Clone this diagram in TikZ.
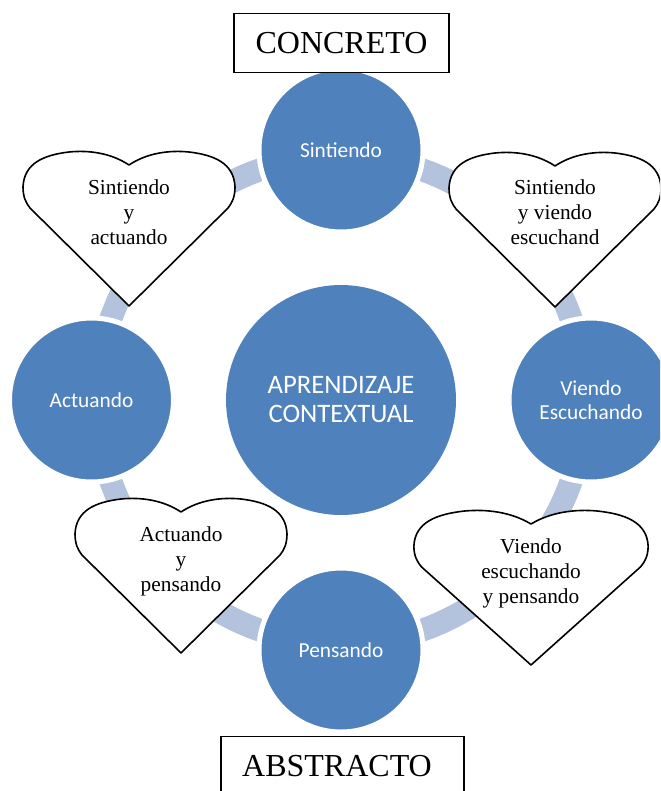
\documentclass[tikz,border=0pt]{standalone}
\usepackage{fontspec}
\setmainfont{Liberation Serif}
\newfontfamily\carlitofont{Carlito}
\definecolor{circblue}{HTML}{4F81BD}
\definecolor{ringblue}{HTML}{B3C3DE}
\begin{document}
\begin{tikzpicture}[x=0.75pt,y=-0.75pt,
  bubble/.style={circle, fill=circblue, draw=white, line width=3.75pt, minimum size=123pt, inner sep=0pt, text=white, font=\carlitofont\fontsize{16}{18}\selectfont, align=center},
  core/.style={circle, fill=circblue, minimum size=172.5pt, inner sep=0pt, text=white, font=\carlitofont\fontsize{20}{21.75}\selectfont, align=center},
  heartline/.style={draw=black, fill=white, line width=1.2pt, line join=round},
  hearttext/.style={font=\fontsize{16}{18.75}\selectfont, align=center, inner sep=0pt},
  labelbox/.style={draw=black, line width=1.1pt, fill=white, font=\fontsize{24}{28}\selectfont, inner xsep=0pt},
  ring/.style={draw=ringblue, line width=17.25pt},
  heart/.pic={\path[heartline] (0,0) .. controls (-18,-12) and (-40,-15) .. (-60,-13) .. controls (-85,-10) and (-105,-2) .. (-106,22) .. controls (-106,32) and (-103,38) .. (-99,43) -- (0,141) -- (99,43) .. controls (103,38) and (106,32) .. (106,22) .. controls (105,-2) and (85,-10) .. (60,-13) .. controls (40,-15) and (18,-12) .. (0,0) -- cycle;}
]
\useasboundingbox (0,0) rectangle (660,791);
\clip (0,0) rectangle (660,791);
\coordinate (ctr) at (341,400);
\draw[ring] (ctr) circle [radius=244];
% circles
\node[core] (core) at (ctr) {APRENDIZAJE\\CONTEXTUAL};
\node[bubble] (sint) at (341,150) {Sintiendo};
\node[bubble] (act) at (91.5,400) {Actuando};
\node[bubble] (vien) at (591,400) {Viendo\\Escuchando};
\node[bubble] (pens) at (341,650) {Pensando};
% hearts
\pic at (129,165) {heart};
\pic at (555,166) {heart};
\pic at (181,512) {heart};
\pic[xscale=1.105] at (531,524) {heart};
\node[hearttext] (h1) at (129,212) {Sintiendo\\y\\actuando};
\node[hearttext] (h2) at (555,212) {Sintiendo\\y viendo\\escuchand};
\node[hearttext] (h3) at (181,561.5) {Actuando\\y\\pensando};
\node[hearttext] (h4) at (531,573) {Viendo\\escuchando\\y pensando};
% boxes
\node[labelbox, anchor=north, minimum width=161.25pt, minimum height=44.25pt] (concreto) at (341.5,13) {CONCRETO};
\node[labelbox, anchor=north, minimum width=182.25pt, inner ysep=13.5pt, text height=16.5pt, text depth=30pt] (abstracto) at (342.5,736) {\hspace*{-8.25pt}ABSTRACTO};
\end{tikzpicture}
\end{document}
